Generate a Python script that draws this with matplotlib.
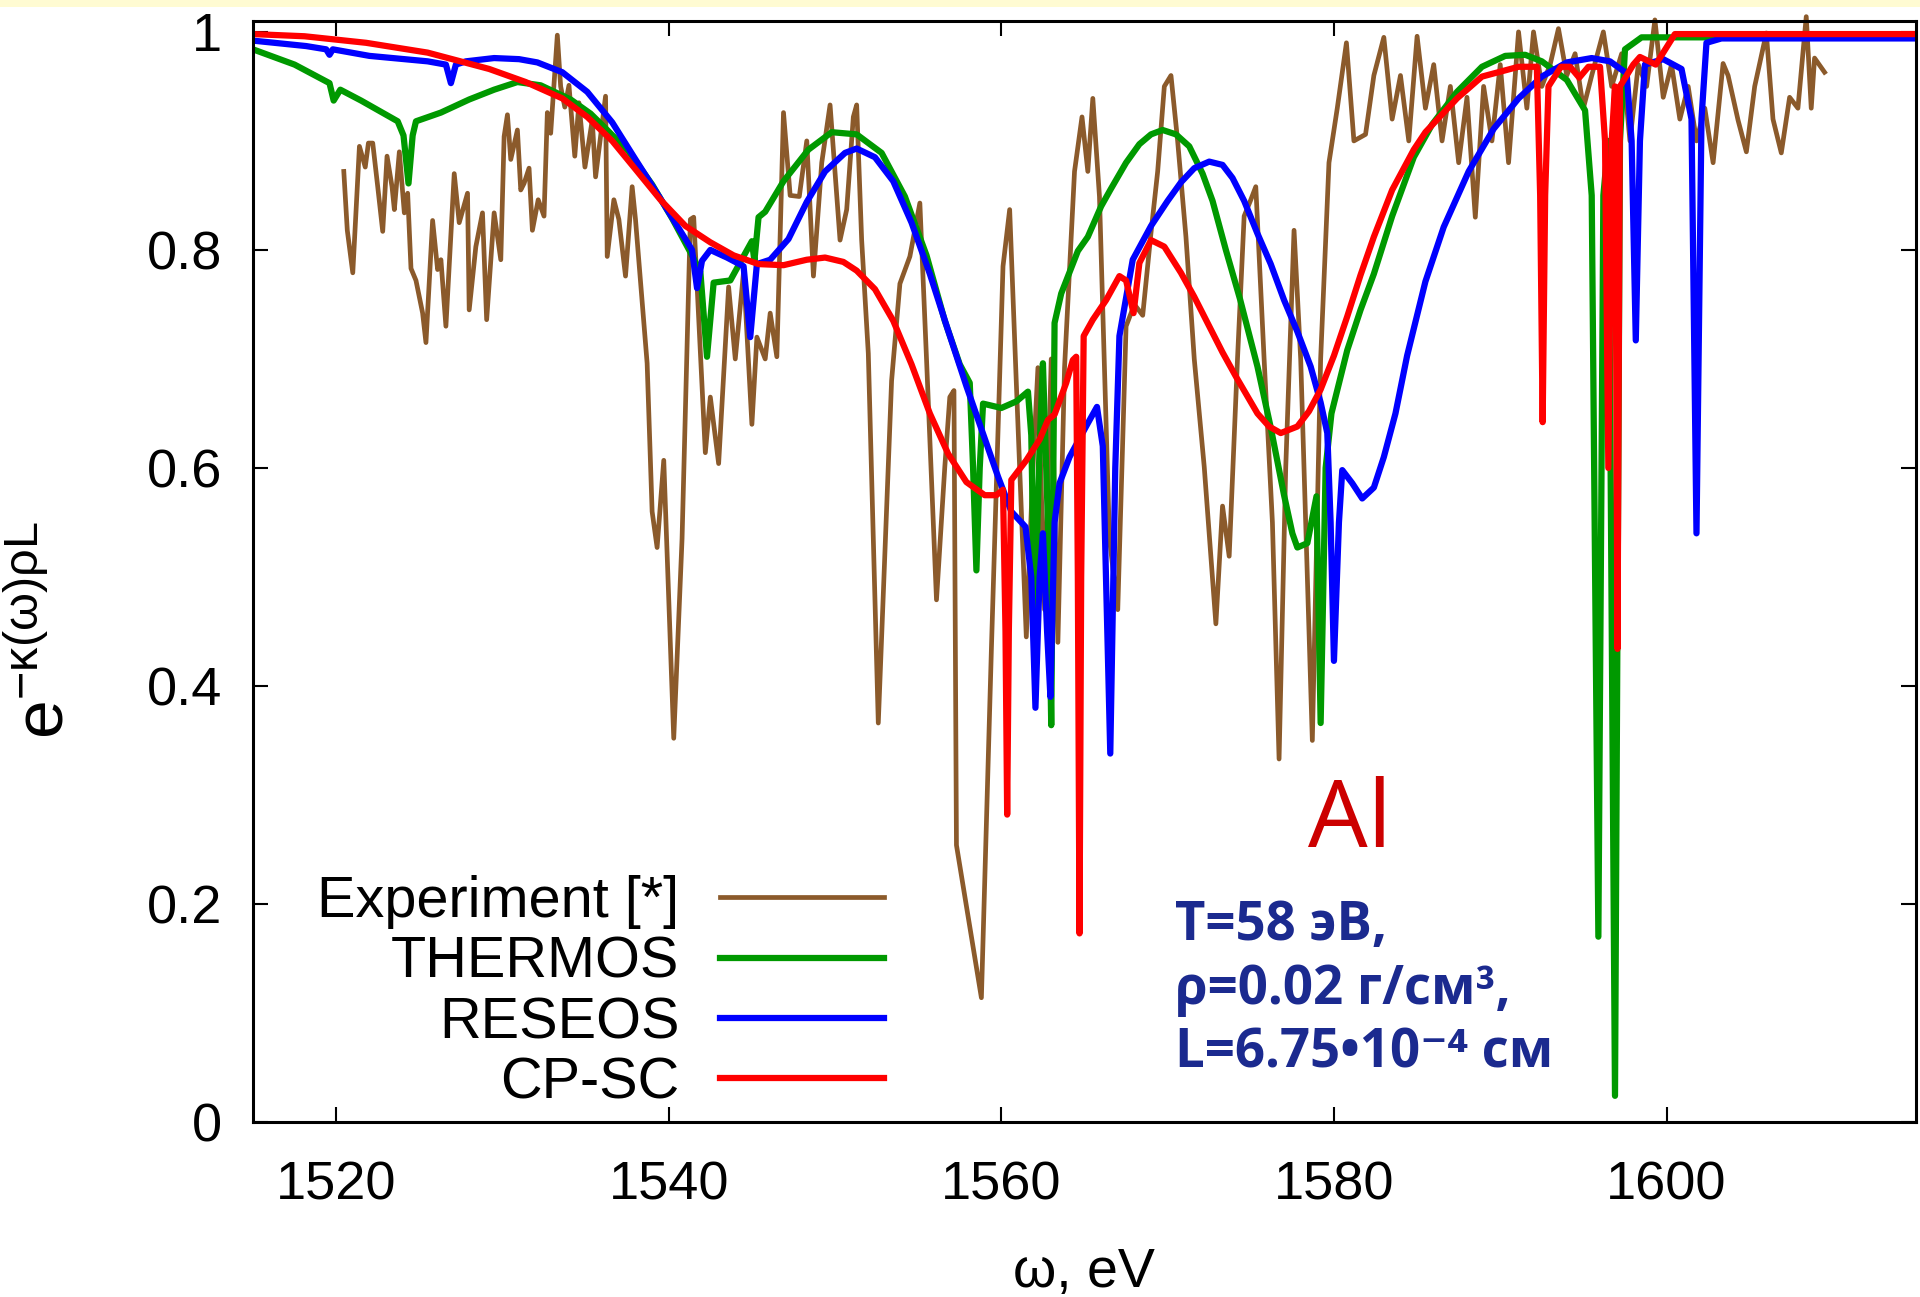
import numpy as np
import matplotlib
matplotlib.use('Agg')
import matplotlib.pyplot as plt
from matplotlib.patches import Rectangle

plt.rcParams['font.family'] = ['Liberation Sans', 'DejaVu Sans']
plt.rcParams['mathtext.fontset'] = 'custom'
plt.rcParams['mathtext.rm'] = 'Liberation Sans'
plt.rcParams['mathtext.it'] = 'Liberation Sans'
plt.rcParams['mathtext.default'] = 'regular'

# ---- data ----
exp_x = [1520.46, 1520.67, 1521.0, 1521.4, 1521.75, 1521.94, 1522.2, 1522.5, 1522.8, 1523.06,
         1523.36, 1523.5, 1523.8, 1524.1, 1524.3, 1524.5, 1524.8, 1525.2, 1525.4, 1525.8,
         1526.1, 1526.3, 1526.6, 1527.1, 1527.4, 1527.9, 1528.0, 1528.4, 1528.8, 1529.05,
         1529.5, 1529.9, 1530.1, 1530.3, 1530.5, 1530.9, 1531.1, 1531.3, 1531.6, 1531.8,
         1532.15, 1532.5, 1532.7, 1532.9, 1533.3, 1533.5, 1533.75, 1534.0, 1534.35, 1534.6,
         1534.96, 1535.4, 1535.6, 1535.9, 1536.2, 1536.3, 1536.7, 1537.0, 1537.4, 1537.8,
         1538.0, 1538.7, 1539.0, 1539.3, 1539.7, 1540.3, 1540.8, 1541.3, 1541.5, 1542.2,
         1542.5, 1543.0, 1543.6, 1544.0, 1544.5, 1545.0, 1545.3, 1545.8, 1546.1, 1546.5,
         1546.9, 1547.3, 1547.85, 1548.3, 1548.7, 1549.2, 1549.7, 1550.3, 1550.7, 1551.1,
         1551.3, 1551.6, 1552.0, 1552.6, 1553.4, 1553.9, 1554.5, 1555.1, 1555.5, 1556.1,
         1556.6, 1556.9, 1557.15, 1557.3, 1557.9, 1558.8, 1559.4, 1560.1, 1560.5, 1560.9,
         1561.5, 1561.9, 1562.2, 1562.6, 1563.0, 1563.4, 1563.8, 1564.4, 1564.85, 1565.2,
         1565.5, 1565.9, 1566.5, 1567.0, 1567.5, 1568.0, 1568.5, 1569.0, 1569.4, 1569.8,
         1570.2, 1570.6, 1571.1, 1571.6, 1572.2, 1572.9, 1573.3, 1573.7, 1574.2, 1574.6,
         1575.0, 1575.3, 1575.8, 1576.3, 1576.7, 1577.1, 1577.6, 1578.0, 1578.3, 1578.7,
         1579.2, 1579.7, 1580.2, 1580.75, 1581.2, 1581.9, 1582.4, 1583.0, 1583.5, 1584.0,
         1584.5, 1585.0, 1585.5, 1586.0, 1586.5, 1587.0, 1587.5, 1588.0, 1588.5, 1589.0,
         1589.5, 1590.0, 1590.5, 1591.1, 1591.6, 1592.0, 1592.5, 1593.0, 1593.5, 1594.0,
         1594.5, 1595.0, 1595.5, 1596.2, 1596.7, 1597.3, 1597.8, 1598.3, 1598.8, 1599.3,
         1599.8, 1600.3, 1600.8, 1601.3, 1601.8, 1602.3, 1602.8, 1603.4, 1603.7, 1604.3,
         1604.8, 1605.3, 1606.0, 1606.4, 1606.9, 1607.4, 1607.9, 1608.4, 1608.7, 1608.9,
         1609.5]
exp_y = [0.872, 0.818, 0.779, 0.895, 0.876, 0.898, 0.898, 0.858, 0.817, 0.886,
         0.858, 0.837, 0.890, 0.834, 0.852, 0.783, 0.772, 0.742, 0.715, 0.827,
         0.782, 0.791, 0.730, 0.870, 0.825, 0.852, 0.745, 0.803, 0.834, 0.736,
         0.834, 0.791, 0.904, 0.924, 0.883, 0.910, 0.855, 0.861, 0.875, 0.818,
         0.846, 0.831, 0.926, 0.907, 0.997, 0.950, 0.931, 0.951, 0.886, 0.935,
         0.876, 0.919, 0.867, 0.904, 0.941, 0.794, 0.846, 0.828, 0.776, 0.858,
         0.828, 0.696, 0.560, 0.527, 0.607, 0.352, 0.535, 0.828, 0.830, 0.614,
         0.665, 0.604, 0.766, 0.700, 0.780, 0.640, 0.720, 0.700, 0.742, 0.702,
         0.926, 0.850, 0.849, 0.900, 0.776, 0.880, 0.933, 0.809, 0.837, 0.922,
         0.933, 0.809, 0.705, 0.366, 0.680, 0.769, 0.794, 0.843, 0.700, 0.479,
         0.601, 0.665, 0.671, 0.254, 0.198, 0.114, 0.433, 0.785, 0.837, 0.678,
         0.445, 0.600, 0.692, 0.470, 0.700, 0.440, 0.692, 0.872, 0.922, 0.872,
         0.939, 0.849, 0.535, 0.470, 0.730, 0.750, 0.740, 0.816, 0.872, 0.950,
         0.960, 0.900, 0.812, 0.700, 0.601, 0.457, 0.565, 0.519, 0.700, 0.831,
         0.846, 0.858, 0.700, 0.550, 0.333, 0.600, 0.818, 0.700, 0.550, 0.350,
         0.700, 0.880, 0.930, 0.990, 0.900, 0.906, 0.960, 0.995, 0.920, 0.960,
         0.900, 0.996, 0.930, 0.970, 0.900, 0.950, 0.880, 0.940, 0.830, 0.950,
         0.900, 0.970, 0.880, 1.000, 0.930, 1.000, 0.950, 0.970, 1.003, 0.960,
         0.980, 0.930, 0.960, 1.000, 0.950, 0.980, 0.900, 0.970, 0.950, 1.011,
         0.940, 0.970, 0.920, 0.950, 0.900, 0.930, 0.880, 0.971, 0.960, 0.919,
         0.890, 0.950, 0.999, 0.920, 0.889, 0.940, 0.930, 1.014, 0.930, 0.976,
         0.963]

thermos_x = [1515.0, 1517.5, 1519.6, 1519.85, 1520.25, 1521.5, 1523.7, 1524.05, 1524.35, 1524.6,
             1524.8, 1526.3, 1528.0, 1529.5, 1530.9, 1532.3, 1534.1, 1535.3, 1536.3, 1537.6,
             1539.0, 1540.2, 1541.4, 1541.9, 1542.3, 1542.7, 1543.7, 1544.6, 1545.0, 1545.15,
             1545.4, 1545.8, 1546.9, 1548.4, 1549.8, 1551.3, 1552.8, 1554.2, 1555.5, 1556.6,
             1557.5, 1558.1, 1558.3, 1558.5, 1558.7, 1558.9, 1560.0, 1560.9, 1561.6, 1561.8,
             1562.0, 1562.3, 1562.5, 1562.8, 1563.0, 1563.2, 1563.6, 1564.6, 1565.2, 1566.0,
             1566.55, 1567.5, 1568.3, 1569.0, 1569.7, 1570.5, 1571.3, 1572.1, 1572.7, 1573.5,
             1574.35, 1575.4, 1576.2, 1577.0, 1577.5, 1577.8, 1578.4, 1578.95, 1579.2, 1579.5,
             1579.85, 1580.8, 1581.6, 1582.4, 1583.5, 1584.8, 1585.9, 1587.4, 1588.9, 1590.3,
             1591.5, 1592.5, 1594.0, 1595.1, 1595.5, 1595.9, 1596.2, 1596.5, 1596.9, 1597.2,
             1597.5, 1598.5, 1615.0]
thermos_y = [0.984, 0.970, 0.953, 0.937, 0.947, 0.937, 0.918, 0.905, 0.861, 0.905,
             0.918, 0.926, 0.938, 0.947, 0.954, 0.951, 0.938, 0.925, 0.910, 0.890,
             0.860, 0.829, 0.795, 0.780, 0.702, 0.770, 0.772, 0.797, 0.808, 0.790,
             0.830, 0.835, 0.863, 0.892, 0.908, 0.906, 0.889, 0.849, 0.795, 0.735,
             0.695, 0.678, 0.600, 0.506, 0.600, 0.659, 0.655, 0.661, 0.670, 0.630,
             0.456, 0.620, 0.696, 0.550, 0.364, 0.733, 0.760, 0.799, 0.812, 0.840,
             0.855, 0.880, 0.897, 0.906, 0.910, 0.906, 0.895, 0.870, 0.845, 0.800,
             0.755, 0.693, 0.637, 0.575, 0.540, 0.527, 0.531, 0.574, 0.366, 0.600,
             0.650, 0.708, 0.745, 0.778, 0.831, 0.885, 0.915, 0.945, 0.968, 0.978,
             0.979, 0.973, 0.956, 0.928, 0.850, 0.170, 0.850, 0.900, 0.024, 0.900,
             0.984, 0.995, 0.995]

reseos_x = [1515.0, 1518.2, 1519.4, 1519.6, 1519.8, 1522.0, 1525.5, 1526.6, 1526.9, 1527.2,
            1527.8, 1529.5, 1531.0, 1532.1, 1533.6, 1535.1, 1536.6, 1538.0, 1539.5, 1541.0,
            1541.4, 1541.7, 1542.0, 1542.5, 1543.5, 1544.5, 1544.9, 1545.3, 1546.1, 1547.2,
            1548.3, 1549.4, 1550.6, 1551.3, 1552.4, 1553.5, 1554.6, 1555.7, 1556.8, 1557.9,
            1559.0, 1559.8, 1560.6, 1561.45, 1561.8, 1562.05, 1562.3, 1562.5, 1562.75, 1562.95,
            1563.2, 1563.5, 1564.1, 1565.2, 1565.75, 1566.1, 1566.55, 1566.85, 1567.1, 1567.9,
            1569.0, 1570.0, 1570.8, 1571.6, 1572.5, 1573.3, 1573.9, 1574.6, 1575.4, 1576.2,
            1577.0, 1577.8, 1578.6, 1579.2, 1579.6, 1579.8, 1580.0, 1580.3, 1580.5, 1581.1,
            1581.7, 1582.4, 1583.0, 1583.7, 1584.4, 1585.5, 1586.6, 1588.1, 1589.6, 1591.1,
            1592.5, 1594.0, 1595.5, 1596.6, 1597.6, 1597.9, 1598.15, 1598.4, 1598.7, 1599.8,
            1600.9, 1601.5, 1601.8, 1602.1, 1602.4, 1603.3, 1615.0]
reseos_y = [0.992, 0.987, 0.984, 0.979, 0.984, 0.978, 0.973, 0.970, 0.953, 0.970,
            0.973, 0.976, 0.975, 0.972, 0.963, 0.945, 0.917, 0.883, 0.847, 0.810,
            0.800, 0.765, 0.790, 0.800, 0.793, 0.785, 0.720, 0.787, 0.791, 0.810,
            0.844, 0.872, 0.889, 0.893, 0.885, 0.863, 0.825, 0.778, 0.726, 0.675,
            0.627, 0.592, 0.560, 0.546, 0.500, 0.380, 0.500, 0.540, 0.450, 0.390,
            0.550, 0.586, 0.610, 0.641, 0.656, 0.620, 0.338, 0.600, 0.721, 0.791,
            0.822, 0.845, 0.862, 0.875, 0.881, 0.878, 0.866, 0.845, 0.815, 0.787,
            0.754, 0.725, 0.693, 0.660, 0.632, 0.550, 0.423, 0.550, 0.598, 0.586,
            0.572, 0.582, 0.610, 0.650, 0.703, 0.771, 0.821, 0.872, 0.911, 0.939,
            0.959, 0.972, 0.976, 0.973, 0.962, 0.900, 0.717, 0.900, 0.970, 0.975,
            0.966, 0.920, 0.540, 0.920, 0.990, 0.994, 0.994]

cpsc_x = [1515.0, 1518.1, 1521.8, 1525.5, 1529.2, 1531.4, 1533.6, 1535.1, 1536.6, 1538.0,
          1539.5, 1541.0, 1542.5, 1543.9, 1545.4, 1546.9, 1548.3, 1549.4, 1550.5, 1551.3,
          1552.4, 1553.5, 1554.6, 1555.7, 1556.8, 1557.9, 1559.0, 1559.7, 1560.1, 1560.25,
          1560.35, 1560.45, 1560.6, 1561.5, 1562.3, 1562.8, 1563.2, 1563.9, 1564.3, 1564.5,
          1564.6, 1564.7, 1564.8, 1564.95, 1565.5, 1566.3, 1567.1, 1567.5, 1567.95, 1568.3,
          1569.0, 1569.8, 1570.8, 1571.6, 1572.5, 1573.3, 1574.1, 1575.4, 1576.1, 1576.8,
          1577.8, 1578.5, 1579.2, 1580.0, 1580.8, 1581.6, 1582.4, 1583.5, 1584.8, 1585.5,
          1587.4, 1588.9, 1591.1, 1592.2, 1592.4, 1592.55, 1592.7, 1592.9, 1593.65, 1594.2,
          1594.75, 1595.3, 1596.0, 1596.3, 1596.5, 1596.7, 1596.9, 1597.05, 1597.2, 1598.0,
          1598.4, 1599.35, 1600.5, 1615.0]
cpsc_y = [0.998, 0.996, 0.990, 0.981, 0.966, 0.954, 0.939, 0.922, 0.900, 0.874,
          0.846, 0.822, 0.807, 0.795, 0.787, 0.786, 0.791, 0.793, 0.789, 0.781,
          0.764, 0.735, 0.695, 0.650, 0.613, 0.587, 0.575, 0.575, 0.580, 0.450,
          0.282, 0.450, 0.589, 0.607, 0.626, 0.644, 0.649, 0.678, 0.699, 0.702,
          0.500, 0.173, 0.500, 0.721, 0.736, 0.754, 0.776, 0.772, 0.742, 0.788,
          0.809, 0.803, 0.779, 0.757, 0.730, 0.706, 0.684, 0.650, 0.638, 0.632,
          0.638, 0.652, 0.672, 0.703, 0.739, 0.777, 0.812, 0.855, 0.892, 0.908,
          0.939, 0.959, 0.968, 0.968, 0.850, 0.642, 0.850, 0.950, 0.968, 0.968,
          0.958, 0.968, 0.968, 0.900, 0.600, 0.900, 0.950, 0.434, 0.950, 0.970,
          0.977, 0.970, 0.998, 0.998]

series_names = ['Experiment [*]', 'THERMOS', 'RESEOS', 'CP-SC']
series_colors = ['#8b5a2b', '#009900', '#0000ff', '#ff0000']

xticks = [1520, 1540, 1560, 1580, 1600]
yticks = [0, 0.2, 0.4, 0.6, 0.8, 1.0]
ytick_labels = ['0', '0.2', '0.4', '0.6', '0.8', '1']

info_lines = ['T=58 эВ,', 'ρ=0.02 г/см³,', 'L=6.75•10⁻⁴ см']

# ---- figure ----
fig = plt.figure(figsize=(19.2, 12.97), dpi=100)
fig.patches.append(Rectangle((0, 1 - 7 / 1297), 1, 7 / 1297, transform=fig.transFigure,
                             facecolor='#fffbd2', edgecolor='none'))
ax = fig.add_axes([253 / 1920, 1 - 1122 / 1297, 1663 / 1920, 1101 / 1297])

ax.plot(exp_x, exp_y, color=series_colors[0], lw=3.4, label=series_names[0], clip_on=False)
ax.plot(thermos_x, thermos_y, color=series_colors[1], lw=4.5, label=series_names[1])
ax.plot(reseos_x, reseos_y, color=series_colors[2], lw=4.5, label=series_names[2])
ax.plot(cpsc_x, cpsc_y, color=series_colors[3], lw=4.5, label=series_names[3])

ax.set_xlim(1515, 1615)
ax.set_ylim(0, 1.01)
ax.set_xticks(xticks)
ax.set_yticks(yticks)
ax.set_yticklabels(ytick_labels)
ax.tick_params(direction='in', length=11, width=1.5, labelsize=39,
               top=True, right=True)
ax.tick_params(axis='y', pad=22)
ax.tick_params(axis='x', pad=28)
for sp in ax.spines.values():
    sp.set_linewidth(2.2)

leg = ax.legend(loc='center right', bbox_to_anchor=(884 / 1920, 1 - 993 / 1297),
                bbox_transform=fig.transFigure, frameon=False, markerfirst=False,
                fontsize=41.5, handlelength=2.85, handletextpad=0.7, labelspacing=0.11,
                borderpad=0, borderaxespad=0)

fig.text(45 / 1920, 1 - 630 / 1297, r'$\mathrm{e}^{-\kappa(\omega)\rho L}$',
         rotation=90, ha='center', va='center', fontsize=50)
fig.text(1084 / 1920, 1 - 1287 / 1297, 'ω, eV', ha='center', va='baseline', fontsize=40)

fig.text(1350 / 1920, 1 - 847 / 1297, 'Al', ha='center', va='baseline',
         fontsize=68, color='#cc0000', family=['Open Sans', 'DejaVu Sans'])
for i, line in enumerate(info_lines):
    fig.text(1175 / 1920, 1 - (940 + 64 * i) / 1297, line, ha='left', va='baseline',
             fontsize=38, fontweight='bold', color='#1b2a8f',
             family=['Open Sans', 'DejaVu Sans'])

fig.savefig('out.png', dpi=100)
